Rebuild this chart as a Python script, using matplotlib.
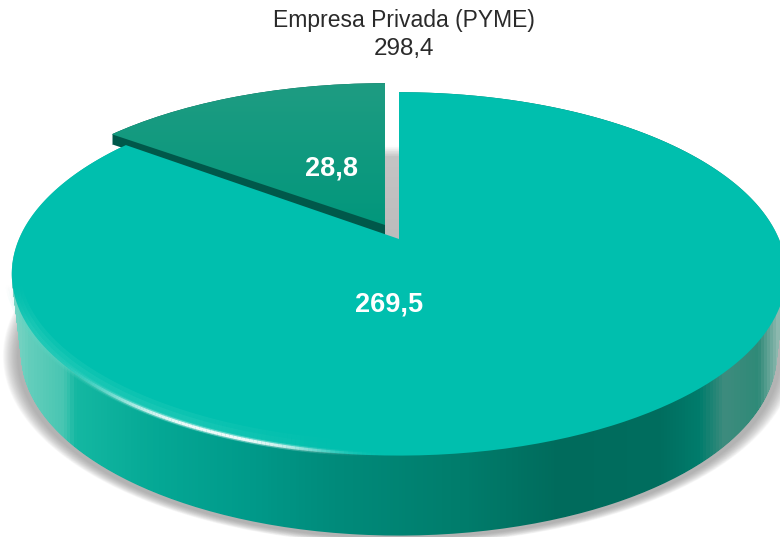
#! /usr/bin/env python3
# -*- coding: utf-8 -*-

"""Empresa Privada (PYME), tilted pie with a solid side wall."""

import numpy as np
import matplotlib
matplotlib.use('Agg')
from matplotlib import pyplot as plt
from matplotlib.collections import LineCollection
from matplotlib.colors import LinearSegmentedColormap, to_rgb
from matplotlib.patches import PathPatch, Rectangle
from matplotlib.path import Path
from matplotlib.transforms import Affine2D, Transform

title = 'Empresa Privada (PYME)'
total_label = '298,4'
values = [28.8, 269.5]
value_labels = ['28,8', '269,5']

TOP = '#00bfae'
SMALL_TOP = '#1f9c82'
SMALL_BOTTOM = '#00977c'
SMALL_WALL = '#00584a'

APEX = (399, 239)
WIDTH = 380.0
HEIGHT = 175.0
PERSPECTIVE = 0.192
WARP = np.radians(19.75)  # the drawn slice opens wider than its true angle
DEPTH = 80


class TiltView(Transform):
    """Unit pie seen from above, y pointing down the page."""
    input_dims = 2
    output_dims = 2

    def transform_non_affine(self, xy):
        xy = np.asarray(xy, dtype=float)
        r = np.hypot(xy[:, 0], xy[:, 1])
        t = np.arctan2(xy[:, 0], xy[:, 1])
        t = t + WARP * np.sin(2 * t)
        x = r * np.sin(t)
        y = r * np.cos(t)
        w = 1 + PERSPECTIVE * y
        return np.column_stack([WIDTH * x / w, -HEIGHT * y / w])

    def transform_path_non_affine(self, path):
        # flatten the arcs first, they do not survive the perspective
        scaled = path.transformed(Affine2D().scale(1000))
        poly = scaled.to_polygons(closed_only=False)[0] / 1000.
        return Path(self.transform_non_affine(poly), closed=True)


def shifted(path, dx=0, dy=0, sx=1., sy=1., about=APEX):
    move = Affine2D().translate(-about[0], -about[1]).scale(sx, sy)
    return path.transformed(move.translate(about[0] + dx, about[1] + dy))


fig = plt.figure(figsize=(7.8, 5.37), dpi=100)
ax = fig.add_axes([0, 0, 1, 1])

wedges, _ = ax.pie(values, startangle=90, colors=[TOP, TOP],
                   wedgeprops={'linewidth': 0})
small, main = wedges
to_page = TiltView() + Affine2D().translate(*APEX)
main_path = to_page.transform_path(main.get_path())
small_path = shifted(to_page.transform_path(small.get_path()), dx=-14, dy=-14, sy=0.966)

main.set_transform(to_page + ax.transData)
main.set_zorder(6)
small.set_visible(False)  # its face is the gradient below

# soft shadow under the body
for i in range(18):
    f = 1 + 0.0022 * i
    shadow = shifted(main_path, dy=DEPTH + 3, sx=f * 0.986, sy=f, about=(399, 300))
    ax.add_patch(PathPatch(shadow, facecolor='#808080', alpha=0.045, linewidth=0, zorder=1))

# side wall, brighter and darker stripes run across the page
wall_stops = [(0., '#8fd8ca'), (0.035, '#64cebc'), (0.08, '#48c6b2'), (0.095, '#14b8a2'),
              (0.2, '#05a895'), (0.32, '#009a8a'), (0.42, '#008c7c'), (0.6, '#007c6b'),
              (0.72, '#006b5c'), (0.85, '#006e5f'), (0.9, '#007c6c'), (0.93, '#3e8c7e'),
              (0.975, '#2f8a78'), (1., '#8cb8ae')]
wall_cmap = LinearSegmentedColormap.from_list('wall', wall_stops)
wall_path = Path.make_compound_path(*[shifted(main_path, dy=d, sx=1 - 0.0003 * d)
                                      for d in range(0, DEPTH + 1)])
wall = ax.imshow(np.linspace(0, 1, 780)[None, :], cmap=wall_cmap, extent=(0, 780, 537, 0),
                 aspect='auto', zorder=2)
wall.set_clip_path(wall_path, ax.transData)

# grey gap behind the small slice
gap_cmap = LinearSegmentedColormap.from_list('gap', [(0., '#ffffff'), (0.1, '#ffffff'), (0.2, '#c4c4c4'),
                                                     (1., '#bcbcbc')])
gap = ax.imshow(np.linspace(0, 1, 60)[:, None], cmap=gap_cmap, extent=(385, 400, 240, 135),
                origin='upper', aspect='auto', zorder=3)

# small slice, its wall and its face
small_wall = Path.make_compound_path(*[shifted(small_path, dy=d) for d in range(0, 11)])
ax.add_patch(PathPatch(small_wall, facecolor=SMALL_WALL, linewidth=0, zorder=3.5))
small_cmap = LinearSegmentedColormap.from_list('small', [SMALL_TOP, SMALL_BOTTOM])
face = ax.imshow(np.linspace(0, 1, 150)[:, None], cmap=small_cmap, extent=(100, 400, 235, 80),
                 origin='upper', aspect='auto', zorder=5)
face.set_clip_path(small_path, ax.transData)

# glossy rim on the front of the main face
t = np.radians(np.linspace(100, 265, 500))
rim = to_page.transform(np.column_stack([np.sin(t), np.cos(t)]))
segs = np.stack([rim[:-1], rim[1:]], axis=1)
mid = segs[:, :, 0].mean(axis=1)
glow = np.exp(-(np.abs(mid - 215) / 100.) ** 3)
soft = np.clip((340 - mid) / 150., 0, 1) * np.clip((segs[:, 0, 1] - 290) / 40., 0, 1)
soft_rgb = np.tile(to_rgb('#5fe0cc'), (len(mid), 1))
for lw, shift in [(12, 6), (8, 4), (4, 2)]:
    ax.add_collection(LineCollection(segs - [0, shift], linewidths=lw, zorder=7,
                                     colors=np.column_stack([soft_rgb, 0.13 * soft])))
glow_rgb = np.tile(to_rgb('#ffffff'), (len(mid), 1))
ax.add_collection(LineCollection(segs - [0, 1], linewidths=4, zorder=8,
                                 colors=np.column_stack([glow_rgb, 0.35 * glow])))
ax.add_collection(LineCollection(segs - [0, 1], linewidths=2.2, zorder=8,
                                 colors=np.column_stack([glow_rgb, 0.9 * glow])))

# white box that hides the bottom right corner of the shadow
ax.add_patch(Rectangle((606, 520), 174, 17, facecolor='white', linewidth=0, zorder=9))

ax.text(404, 21, title, ha='center', va='center', fontsize=16.5, color='#2a2a2a',
        family='Liberation Sans', zorder=10)
ax.text(404, 49.5, total_label, ha='center', va='center', fontsize=17.5, color='#2a2a2a',
        family='Liberation Sans', zorder=10)
ax.text(331, 168, value_labels[0], ha='center', va='center', fontsize=19.5, color='white',
        fontweight='bold', family='Liberation Sans', zorder=10)
ax.text(389, 305, value_labels[1], ha='center', va='center', fontsize=19.5, color='white',
        fontweight='bold', family='Liberation Sans', zorder=10)

ax.set_aspect('auto')
ax.set_xlim(0, 780)
ax.set_ylim(537, 0)
ax.axis('off')

fig.savefig('out.png', dpi=100)
plt.close()
